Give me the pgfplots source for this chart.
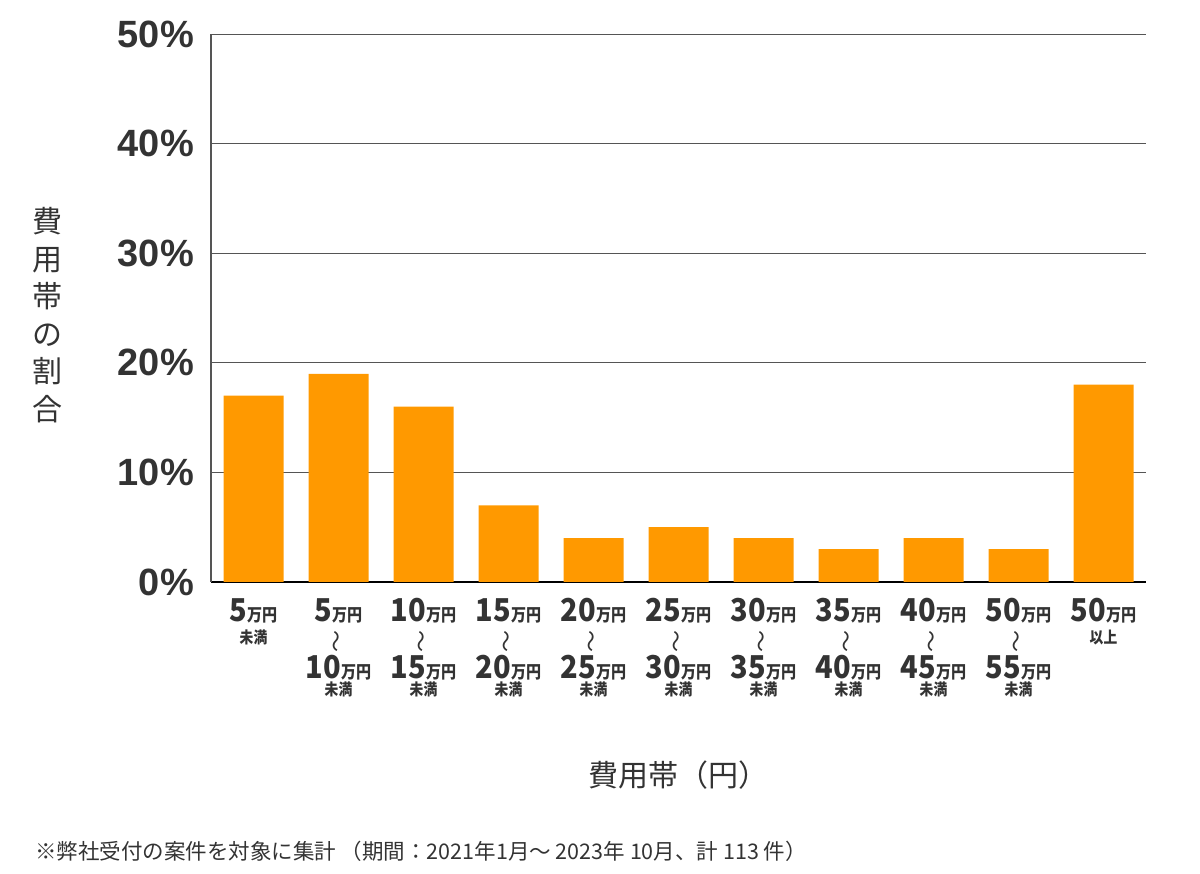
\documentclass[border=0pt]{standalone}
\usepackage{pgfplots}
\pgfplotsset{compat=1.18}
\usepackage{fontspec}
\usepackage{graphicx}
\setmainfont{Noto Sans CJK JP}
\newfontfamily\tickfont{Liberation Sans}
\newfontfamily\catfont{Noto Sans CJK JP}[FakeStretch=0.92]
\newfontfamily\unitfont{Noto Sans CJK JP}[FakeStretch=0.86]
\definecolor{bar}{HTML}{FF9900}
\definecolor{txt}{HTML}{333333}
\definecolor{gridc}{HTML}{555555}

% category label pieces
\newcommand\mn[1]{{\catfont\bfseries\fontsize{31.5}{31.5}\selectfont #1}}
\newcommand\me{{\unitfont\bfseries\fontsize{17.5}{17.5}\selectfont 万円}}
\newcommand\lo[1]{{\unitfont\bfseries\fontsize{16}{16}\selectfont #1}}
\newcommand\wv{\rotatebox{90}{\fontsize{22}{22}\selectfont ～}}
\newcommand\st[2]{\rule[-#2pt]{0pt}{\dimexpr#1pt+#2pt\relax}}
\newcommand\one[2]{\vbox{\offinterlineskip\halign{\hfil##\hfil\cr
  \st{23}{2}\mn{#1}\me\cr
  \st{20}{1}\lo{#2}\cr}}}
\newcommand\two[2]{\vbox{\offinterlineskip\halign{\hfil##\hfil\cr
  \st{23}{2}\mn{#1}\me\cr
  \st{29}{0}\wv\cr
  \st{26}{2}\mn{#2}\me\cr
  \st{15}{1}\lo{未満}\cr}}}

\begin{document}
\begin{tikzpicture}
\begin{axis}[
    at={(211pt,292pt)}, anchor=south west,
    scale only axis, width=935pt, height=548pt,
    xmin=-0.5, xmax=10.5, ymin=0, ymax=50,
    axis x line=bottom, axis y line=left,
    axis line style={-},
    x axis line style={black, line width=1.6pt},
    y axis line style={gridc, line width=1.6pt},
    ymajorgrids, major grid style={gridc, line width=0.9pt},
    ytick={0,10,20,30,40,50},
    yticklabels={0\%,10\%,20\%,30\%,40\%,50\%},
    major tick length=0pt,
    yticklabel style={font=\tickfont\bfseries\fontsize{38}{38}\selectfont, text=txt, inner sep=0pt, xshift=-17pt},
    xtick={0,...,10},
    xticklabels={\one{5}{未満},\two{5}{10},\two{10}{15},\two{15}{20},\two{20}{25},\two{25}{30},\two{30}{35},\two{35}{40},\two{40}{45},\two{50}{55},\one{50}{以上}},
    xticklabel style={font=\fontsize{8}{8}\selectfont, text=txt, inner sep=0pt, anchor=north, yshift=-16pt},
    ybar, bar width=60pt,
]
\addplot[fill=bar, draw=none, bar shift=0pt] coordinates {
 (0,17) (1,19) (2,16) (3,7) (4,4) (5,5) (6,4) (7,3) (8,4) (9,3) (10,18)};
\end{axis}
\node[text=txt, align=center, font=\fontsize{30}{37.5}\selectfont] at (47pt,559pt) {費\\用\\帯\\の\\割\\合};
\node[text=txt, font=\fontsize{30}{30}\selectfont] at (678pt,99pt) {費用帯（円）};
\node[text=txt, anchor=west, inner sep=0pt, font=\fontsize{21.5}{21.5}\selectfont] at (35pt,23pt) {※弊社受付の案件を対象に集計 （期間：2021年1月～ 2023年 10月、計 113 件）};
\pgfresetboundingbox
\path (0,0) rectangle (1200pt,874pt);
\end{tikzpicture}
\end{document}
